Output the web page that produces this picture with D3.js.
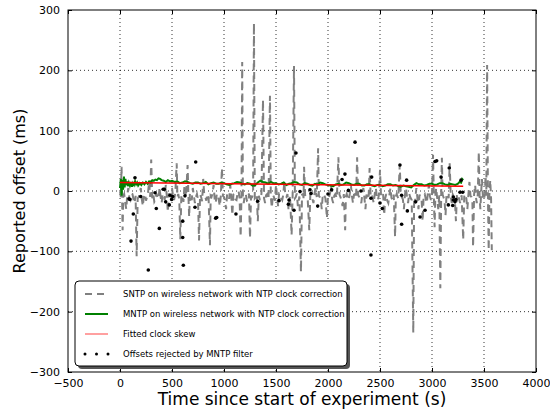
<!DOCTYPE html>
<html>
<head>
<meta charset="utf-8">
<title>Reported offset</title>
<script src="https://d3js.org/d3.v7.min.js"></script>
<style>
  body { margin: 0; background: #fff; }
  svg { display: block; font-family: "DejaVu Sans", sans-serif; }
</style>
</head>
<body>
<svg width="550" height="410"></svg>
<script>
// SNTP on wireless network (gray dashed)
const sntpTime = [
  0, 8, 15, 20, 25, 32, 40, 50, 60, 70,
  80, 90, 100, 110, 120, 130, 140, 150, 160, 170,
  180, 190, 200, 210, 220, 230, 240, 250, 260, 270,
  280, 290, 300, 310, 320, 330, 340, 350, 360, 370,
  380, 390, 400, 410, 420, 430, 440, 450, 460, 470,
  480, 490, 500, 510, 520, 532, 545, 552, 560, 570,
  580, 590, 600, 610, 620, 635, 650, 658, 665, 672,
  680, 690, 700, 710, 720, 730, 740, 750, 760, 770,
  780, 790, 800, 810, 820, 830, 840, 852, 865, 872,
  880, 890, 900, 910, 920, 930, 940, 950, 960, 970,
  980, 990, 1000, 1010, 1020, 1030, 1040, 1050, 1060, 1070,
  1080, 1090, 1100, 1110, 1120, 1130, 1140, 1150, 1160, 1168,
  1175, 1182, 1190, 1200, 1210, 1220, 1230, 1240, 1250, 1260,
  1270, 1280, 1288, 1296, 1305, 1315, 1325, 1335, 1345, 1360,
  1375, 1385, 1395, 1405, 1415, 1428, 1442, 1450, 1460, 1470,
  1480, 1490, 1500, 1510, 1520, 1530, 1540, 1550, 1560, 1570,
  1580, 1590, 1600, 1610, 1620, 1635, 1650, 1660, 1673, 1682,
  1690, 1700, 1710, 1725, 1740, 1750, 1760, 1765, 1770, 1780,
  1790, 1805, 1820, 1830, 1840, 1850, 1860, 1870, 1880, 1892,
  1905, 1912, 1920, 1930, 1940, 1950, 1960, 1975, 1990, 2000,
  2010, 2020, 2030, 2040, 2050, 2060, 2070, 2085, 2100, 2110,
  2120, 2130, 2140, 2152, 2165, 2172, 2180, 2190, 2200, 2210,
  2220, 2230, 2240, 2250, 2260, 2270, 2280, 2290, 2300, 2310,
  2320, 2330, 2340, 2350, 2360, 2370, 2380, 2390, 2400, 2410,
  2420, 2430, 2440, 2450, 2460, 2470, 2480, 2490, 2500, 2510,
  2520, 2530, 2540, 2550, 2560, 2570, 2580, 2590, 2600, 2610,
  2620, 2632, 2645, 2652, 2660, 2675, 2690, 2700, 2710, 2720,
  2730, 2740, 2750, 2760, 2770, 2780, 2790, 2805, 2820, 2828,
  2835, 2842, 2850, 2860, 2870, 2880, 2890, 2900, 2910, 2920,
  2930, 2940, 2950, 2960, 2970, 2980, 2990, 3000, 3010, 3018,
  3025, 3032, 3040, 3050, 3060, 3070, 3080, 3088, 3095, 3102,
  3110, 3120, 3130, 3140, 3150, 3160, 3170, 3180, 3190, 3200,
  3210, 3220, 3230, 3240, 3250, 3260, 3270, 3285, 3300, 3310,
  3320, 3330, 3340, 3350, 3360, 3370, 3380, 3388, 3395, 3405,
  3415, 3422, 3430, 3440, 3450, 3458, 3465, 3472, 3480, 3490,
  3500, 3508, 3515, 3522, 3530, 3538, 3545, 3552, 3560, 3568,
  3575
];
const sntpOffset = [
  0, -10, 40, -12, -65, -8, -5, -18, -30, -6,
  5, -12, -15, -4, -5, -14, -20, -8, -108, -12,
  -10, -3, 5, -14, -25, -7, -5, -16, -10, -2,
  15, -10, 52, -12, -5, -18, -15, -4, -10, -13,
  5, -9, -20, -6, -5, -15, 10, -8, -35, -4,
  -10, -16, 5, -9, -15, -3, 46, -10, -5, -14,
  -80, -6, -10, -18, 10, -9, 43, -8, -43, -4,
  -10, -15, 5, -7, -20, -10, -5, -14, -82, -6,
  -10, -17, 20, -6, -10, -16, -5, -12, -90, -8,
  -10, -4, 10, -13, -20, -6, -5, -15, -25, -7,
  38, -8, -10, -16, -30, -5, -5, -13, 10, -9,
  -40, -6, -5, -14, -15, -4, 0, -12, -76, -8,
  214, -10, -20, -6, -5, -16, -15, -4, -78, -9,
  -10, -5, 278, -12, -10, -6, -50, -8, -15, -5,
  151, -12, -20, -7, -5, -14, 158, -9, -28, -6,
  -10, -16, 10, -8, -25, -4, -5, -12, -15, -6,
  15, -9, -10, -5, -30, -8, -73, -6, 207, -12,
  -10, -4, -25, -9, -134, -6, -5, -12, 40, -7,
  -10, -14, -65, -6, -5, -13, -20, -5, 5, -10,
  71, -8, -10, -15, -30, -6, -5, -12, -45, -7,
  -10, -4, 10, -14, -20, -8, -5, -12, 56, -6,
  -10, -16, -25, -5, -65, -9, -5, -13, -15, -4,
  10, -8, -20, -6, -5, -12, 56, -7, -10, -15,
  -20, -5, 5, -11, -30, -6, -10, -14, 38, -8,
  -5, -13, -20, -4, 5, -10, -15, -6, 35, -9,
  -10, -5, -40, -12, -5, -16, -20, -7, 5, -11,
  -15, -6, -76, -9, -5, -12, 43, -8, -10, -14,
  -30, -6, 5, -10, -20, -4, -10, -15, -235, -12,
  -20, -8, 5, -12, -30, -6, -10, -15, -50, -7,
  -5, -13, -20, -4, 10, -9, -15, -6, 60, -10,
  -60, -8, 5, -12, -30, -7, -161, -10, 55, -6,
  -10, -15, -40, -5, -5, -12, 46, -8, -20, -6,
  -10, -14, -50, -6, -5, -13, -20, -7, -81, -9,
  -5, -12, -30, -6, 15, -8, -10, -14, -93, -5,
  10, -9, -20, -6, 65, -12, -30, -5, 20, -10,
  -15, -4, 25, -8, 209, -10, -98, -6, 18, -12,
  -98
];

// MNTP on wireless network (green)
const mntpTime = [
  0, 8, 15, 22, 30, 38, 45, 52, 60, 68,
  75, 85, 95, 105, 115, 125, 135, 145, 155, 165,
  175, 190, 205, 220, 235, 250, 265, 280, 295, 310,
  325, 340, 355, 370, 385, 400, 420, 440, 460, 480,
  500, 525, 550, 575, 600, 625, 650, 675, 700, 725,
  750, 775, 800, 825, 850, 875, 900, 925, 950, 975,
  1000, 1025, 1050, 1075, 1100, 1125, 1150, 1175, 1200, 1225,
  1250, 1275, 1300, 1325, 1350, 1375, 1400, 1425, 1450, 1475,
  1500, 1525, 1550, 1575, 1600, 1625, 1650, 1675, 1700, 1725,
  1750, 1775, 1800, 1825, 1850, 1875, 1900, 1925, 1950, 1975,
  2000, 2025, 2050, 2075, 2100, 2125, 2150, 2175, 2200, 2225,
  2250, 2275, 2300, 2325, 2350, 2375, 2400, 2425, 2450, 2475,
  2500, 2525, 2550, 2575, 2600, 2625, 2650, 2675, 2700, 2725,
  2750, 2775, 2800, 2825, 2850, 2875, 2900, 2925, 2950, 2975,
  3000, 3025, 3050, 3075, 3100, 3125, 3150, 3175, 3200, 3225,
  3250, 3265, 3280, 3290, 3300
];
const mntpOffset = [
  5, 20, -8, 18, 2, 24, 6, 20, 10, 16,
  8, 14, 9, 15, 7, 13, 10, 16, 11, 14,
  9, 13, 10, 14, 11, 15, 12, 16, 14, 18,
  17, 19, 18, 21, 20, 18, 17, 15, 18, 16,
  17, 15, 16, 13, 14, 16, 15, 13, 12, 14,
  14, 12, 13, 15, 11, 13, 14, 12, 12, 14,
  13, 11, 10, 12, 13, 15, 14, 12, 11, 13,
  12, 9, 10, 14, 17, 15, 14, 12, 15, 13,
  13, 11, 12, 14, 10, 12, 13, 15, 14, 11,
  10, 13, 12, 10, 9, 12, 11, 14, 13, 11,
  10, 9, 8, 11, 12, 10, 11, 14, 13, 11,
  10, 12, 12, 9, 9, 11, 11, 9, 8, 10,
  10, 8, 9, 11, 11, 9, 10, 8, 7, 9,
  8, 7, 6, 10, 13, 11, 11, 9, 10, 12,
  12, 10, 11, 13, 13, 11, 10, 12, 11, 10,
  12, 15, 14, 20, 18
];

// fitted clock skew (red)
const fitTime = [0, 3300];
const fitOffset = [14, 8];

// offsets rejected by the MNTP filter (black dots)
const rejTime = [
  144, 87, 95, 128, 106, 199, 272, 349, 378, 337,
  426, 439, 474, 497, 481, 728, 625, 603, 603, 609,
  721, 920, 930, 1115, 1324, 415, 507, 1692, 1529, 1625,
  1619, 1673, 1731, 1837, 1827, 1901, 2035, 2000, 2135, 2163,
  2196, 2317, 2420, 2413, 2500, 2522, 2413, 2260, 2708, 2692,
  2756, 2763, 2843, 2885, 2933, 3029, 3045, 3087, 3157, 3205,
  3205, 3199, 3221, 3269, 3295, 3279, 3166, 2708, 3230
];
const rejOffset = [
  22, -13, -14, -38, -83, -9, -131, -29, -62, -3,
  3, -18, -23, -14, -7, 48, -8, -50, -77, -123,
  -27, -45, -44, -38, -17, 3, -9, 63, -16, -15,
  -22, -32, -1, -4, 2, -25, 2, -5, 19, 28,
  1, 0, 23, -12, -20, -29, -106, 81, -7, 43,
  18, -33, -18, -43, -32, 49, 50, 23, -23, -10,
  -15, -24, -18, -2, -2, 18, 38, -55, -14
];

const xTicks = [-500, 0, 500, 1000, 1500, 2000, 2500, 3000, 3500, 4000];
const yTicks = [-300, -200, -100, 0, 100, 200, 300];

const legendLabels = [
  "SNTP on wireless network with NTP clock correction",
  "MNTP on wireless network with NTP clock correction",
  "Fitted clock skew",
  "Offsets rejected by MNTP filter"
];

const margin = {top: 10, right: 14, bottom: 38, left: 68};
const width = 550 - margin.left - margin.right;
const height = 410 - margin.top - margin.bottom;

const svg = d3.select("svg");
const g = svg.append("g").attr("transform", `translate(${margin.left},${margin.top})`);

const x = d3.scaleLinear().domain([-500, 4000]).range([0, width]);
const y = d3.scaleLinear().domain([-300, 300]).range([height, 0]);

// grid
g.append("g").selectAll("line").data(xTicks.slice(1, -1)).join("line")
  .attr("x1", d => x(d)).attr("x2", d => x(d))
  .attr("y1", 0).attr("y2", height)
  .attr("stroke", "#000").attr("stroke-width", 0.8).attr("stroke-dasharray", "1,3");
g.append("g").selectAll("line").data(yTicks.slice(1, -1)).join("line")
  .attr("y1", d => y(d)).attr("y2", d => y(d))
  .attr("x1", 0).attr("x2", width)
  .attr("stroke", "#000").attr("stroke-width", 0.8).attr("stroke-dasharray", "1,3");

svg.append("defs").append("clipPath").attr("id", "plot")
  .append("rect").attr("width", width).attr("height", height);
const plot = g.append("g").attr("clip-path", "url(#plot)");

const line = d3.line().x(d => x(d[0])).y(d => y(d[1]));

plot.append("path")
  .datum(d3.zip(sntpTime, sntpOffset))
  .attr("d", line)
  .attr("fill", "none").attr("stroke", "#808080")
  .attr("stroke-width", 2).attr("stroke-dasharray", "7,5");

plot.append("path")
  .datum(d3.zip(mntpTime, mntpOffset))
  .attr("d", line)
  .attr("fill", "none").attr("stroke", "#008000").attr("stroke-width", 2);

plot.append("path")
  .datum(d3.zip(fitTime, fitOffset))
  .attr("d", line)
  .attr("fill", "none").attr("stroke", "#ff0000").attr("stroke-width", 1.5);

plot.append("g").selectAll("circle")
  .data(d3.zip(rejTime, rejOffset)).join("circle")
  .attr("cx", d => x(d[0])).attr("cy", d => y(d[1]))
  .attr("r", 1.8).attr("fill", "#000");

// frame
g.append("rect").attr("width", width).attr("height", height)
  .attr("fill", "none").attr("stroke", "#000").attr("stroke-width", 1);

// axes, ticks pointing inward on all four sides
const fmt = d3.format("d");
g.append("g").attr("transform", `translate(0,${height})`)
  .call(d3.axisBottom(x).tickValues(xTicks).tickFormat(fmt)
    .tickSizeInner(-4).tickSizeOuter(0).tickPadding(7));
g.append("g")
  .call(d3.axisLeft(y).tickValues(yTicks).tickFormat(fmt)
    .tickSizeInner(-4).tickSizeOuter(0).tickPadding(8));
g.append("g")
  .call(d3.axisTop(x).tickValues(xTicks).tickSizeInner(-4).tickSizeOuter(0).tickFormat(""));
g.append("g").attr("transform", `translate(${width},0)`)
  .call(d3.axisRight(y).tickValues(yTicks).tickSizeInner(-4).tickSizeOuter(0).tickFormat(""));
g.selectAll(".domain").remove();
g.selectAll(".tick line").attr("stroke", "#000");
g.selectAll(".tick text").attr("font-size", 11).attr("fill", "#000")
  .attr("font-family", "DejaVu Sans, sans-serif");

// axis titles
svg.append("text")
  .attr("x", margin.left + width / 2).attr("y", 405)
  .attr("text-anchor", "middle").attr("font-size", 17)
  .text("Time since start of experiment (s)");
svg.append("text")
  .attr("transform", `translate(25,${margin.top + height / 2}) rotate(-90)`)
  .attr("text-anchor", "middle").attr("font-size", 16)
  .text("Reported offset (ms)");

// legend
const lg = svg.append("g").attr("transform", "translate(75,281)");
const lw = 272, lh = 85;
lg.append("rect").attr("x", 3).attr("y", 3).attr("width", lw).attr("height", lh)
  .attr("rx", 4).attr("fill", "#555");
lg.append("rect").attr("width", lw).attr("height", lh)
  .attr("rx", 4).attr("fill", "#fff").attr("stroke", "#000").attr("stroke-width", 1);

const rows = lg.selectAll("g.row").data(legendLabels).join("g")
  .attr("class", "row")
  .attr("transform", (d, i) => `translate(0,${13 + i * 20})`);
rows.append("text").attr("x", 48).attr("dy", "0.35em")
  .attr("font-size", 8.5).text(d => d);

rows.filter((d, i) => i === 0).append("line")
  .attr("x1", 10).attr("x2", 33).attr("stroke", "#808080")
  .attr("stroke-width", 2).attr("stroke-dasharray", "7,5");
rows.filter((d, i) => i === 1).append("line")
  .attr("x1", 10).attr("x2", 33).attr("stroke", "#008000").attr("stroke-width", 2);
rows.filter((d, i) => i === 2).append("line")
  .attr("x1", 10).attr("x2", 33).attr("stroke", "#ff8080").attr("stroke-width", 1.5);
rows.filter((d, i) => i === 3).selectAll("circle").data([10, 21.5, 33]).join("circle")
  .attr("cx", d => d).attr("r", 1.5).attr("fill", "#000");
</script>
</body>
</html>
